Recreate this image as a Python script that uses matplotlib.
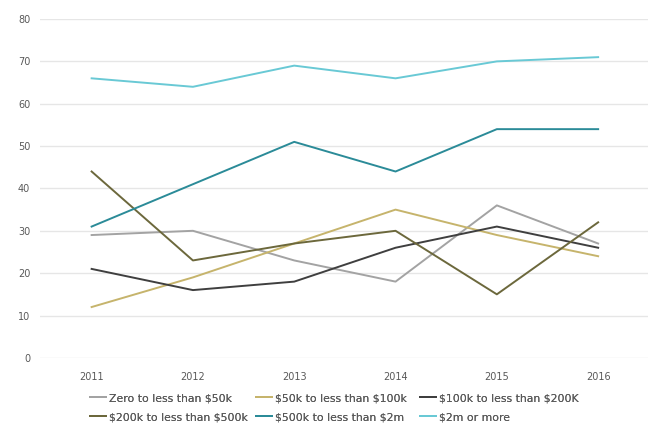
import matplotlib.pyplot as plt

plt.rcParams["text.parse_math"] = False

years = ["2011", "2012", "2013", "2014", "2015", "2016"]

zero_to_50k = [29, 30, 23, 18, 36, 27]
k50_to_100k = [12, 19, 27, 35, 29, 24]
k100_to_200k = [21, 16, 18, 26, 31, 26]
k200_to_500k = [44, 23, 27, 30, 15, 32]
k500_to_2m = [31, 41, 51, 44, 54, 54]
m2_or_more = [66, 64, 69, 66, 70, 71]

series = [
    ("Zero to less than $50k", zero_to_50k, "#a3a3a3"),
    ("$50k to less than $100k", k50_to_100k, "#c6b46c"),
    ("$100k to less than $200K", k100_to_200k, "#3f3f3f"),
    ("$200k to less than $500k", k200_to_500k, "#6c683c"),
    ("$500k to less than $2m", k500_to_2m, "#2b8b98"),
    ("$2m or more", m2_or_more, "#69c9d5"),
]

W, H = 655, 423
fig = plt.figure(figsize=(W / 100, H / 100), dpi=100)
ax = fig.add_axes([0.061, 0.154, 0.928, 0.801])

x = list(range(len(years)))
lines = []
for label, values, color in series:
    (ln,) = ax.plot(x, values, color=color, linewidth=1.4, label=label)
    lines.append(ln)

ax.set_xlim(-0.51, 5.49)
ax.set_ylim(0, 80)
ax.set_yticks(range(0, 81, 10))
ax.set_xticks(x)
ax.set_xticklabels(years)
ax.grid(axis="y", color="#e6e6e6", linewidth=1)
ax.set_axisbelow(True)
for side in ax.spines.values():
    side.set_visible(False)
ax.tick_params(length=0, labelsize=7, colors="#595959")
ax.tick_params(axis="y", pad=7)
ax.tick_params(axis="x", pad=10)

# Excel-style flowing legend: place each entry by pixel position
legend_pos = [(90, 398), (256, 398), (420, 398), (90, 417), (256, 417), (420, 417)]
for ln, (label, _, _), (px, py) in zip(lines, series, legend_pos):
    leg = fig.legend(
        [ln],
        [label],
        loc="center left",
        bbox_to_anchor=(px / W, 1 - py / H),
        frameon=False,
        fontsize=7.8,
        handlelength=1.45,
        handletextpad=0.3,
        borderpad=0,
        borderaxespad=0,
        labelcolor="#595959",
    )
    fig.add_artist(leg)

fig.savefig("out.png", dpi=100)
